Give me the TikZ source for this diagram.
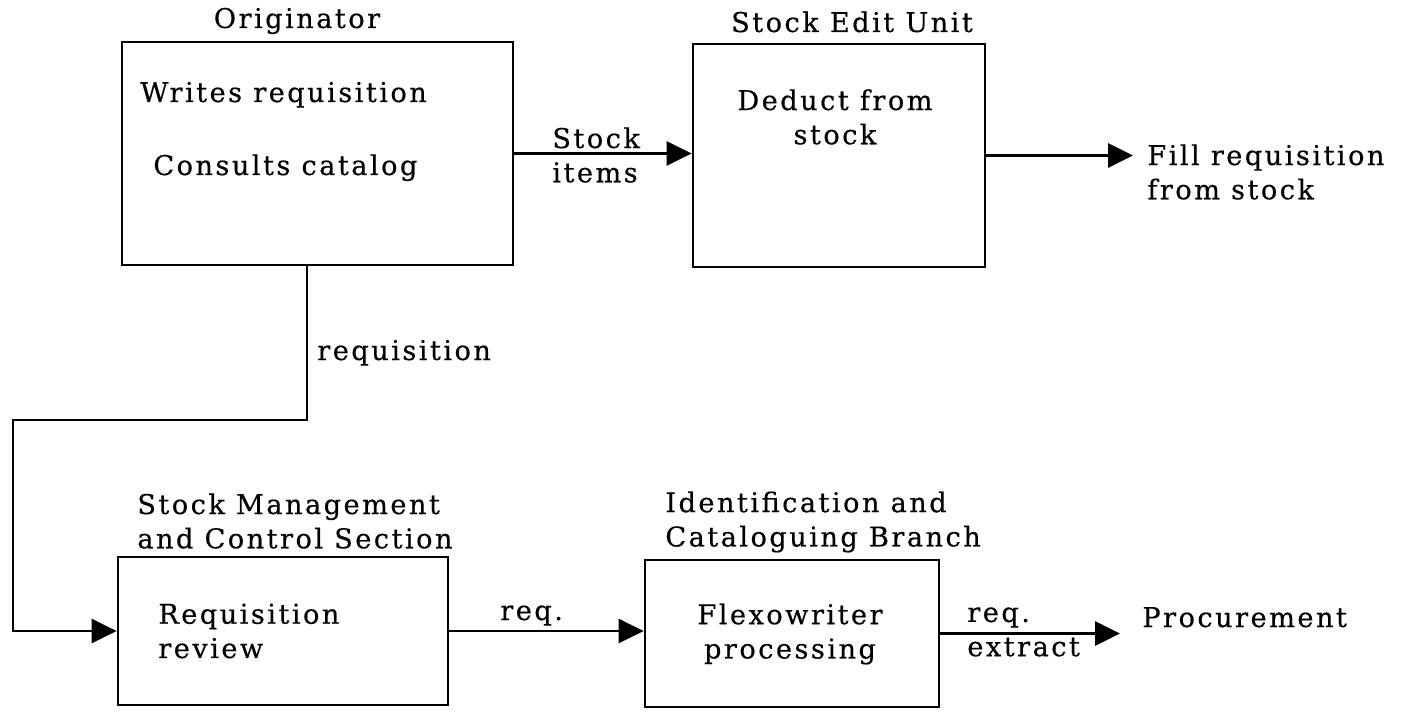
\documentclass[tikz,border=0pt]{standalone}
\usepackage{fontspec}
\setmainfont{DejaVu Serif}[LetterSpace=9,FakeBold=0.4]
\usetikzlibrary{positioning,arrows.meta}

\begin{document}
\begin{tikzpicture}[
    x=0.02cm, y=-0.02cm,
    mainbox/.style = {
        rectangle,
        draw=black,
        line width=1.6pt,
        inner sep=0pt
    },
    typetext/.style = {
        font=\fontsize{15.5}{19.5}\selectfont,
        align=left,
        inner sep=0pt
    },
    arrow/.style = {
        -{Triangle[length=0.5cm,width=0.48cm]},
        line width=1.6pt,
        draw=black
    }
]

\useasboundingbox (0,0) rectangle (1412,719);

% boxes
\node (orig) [mainbox, minimum width=7.82cm, minimum height=4.46cm] at (317.5,153.5) {};
\node (edit) [mainbox, minimum width=5.84cm, minimum height=4.46cm] at (839,155.5) {};
\node (mgmt) [mainbox, minimum width=6.6cm, minimum height=2.96cm] at (283,631) {};
\node (ident) [mainbox, minimum width=5.88cm, minimum height=2.94cm] at (792,633.5) {};

% titles above the boxes
\node (origtitle) [typetext, anchor=base] at (297,28) {Originator};
\node (edittitle) [typetext, anchor=base] at (852,32) {Stock Edit Unit};
\node (mgmttitle) [typetext, anchor=west] at (137,521) {Stock Management\\and Control Section};
\node (identtitle) [typetext, anchor=west] at (665,522) {Identification and\\Cataloguing Branch};

% texts inside the boxes
\node (writes) [typetext, anchor=base west] at (140,102) {Writes requisition};
\node (consults) [typetext, anchor=base west] at (153,175) {Consults catalog};
\node (deduct) [typetext, align=center] at (835,117) {Deduct from\\stock};
\node (review) [typetext, anchor=west] at (158,631) {Requisition\\review};
\node (flexo) [typetext, align=center] at (790,634) {Flexowriter\\processing};

% connector labels and end points
\node (stocklbl) [typetext, anchor=west] at (552,155) {Stock\\items};
\node (filllbl) [typetext, anchor=west] at (1147,172) {Fill requisition\\from stock};
\node (reqlbl) [typetext, anchor=base west] at (317,360) {requisition};
\node (reqshort) [typetext, anchor=base west] at (500,620) {req.};
\node (extractlbl) [typetext, anchor=west] at (967,632) {req.\\extract};
\node (proc) [typetext, anchor=base west] at (1142,627) {Procurement};

\coordinate (fillend) at (1133,155.5);
\coordinate (procend) at (1120,633.5);
\coordinate (bendtop) at (307,420);
\coordinate (bendleft) at (13,420);

% connectors
\draw [arrow] (orig.east) -- (orig.east -| edit.west);
\draw [arrow] (edit.east) -- (fillend);
\draw [arrow] (orig.south -| bendtop) -- (bendtop) -- (bendleft) |- (mgmt.west);
\draw [arrow] (mgmt.east) -- (mgmt.east -| ident.west);
\draw [arrow] (ident.east) -- (procend);

\end{tikzpicture}
\end{document}
